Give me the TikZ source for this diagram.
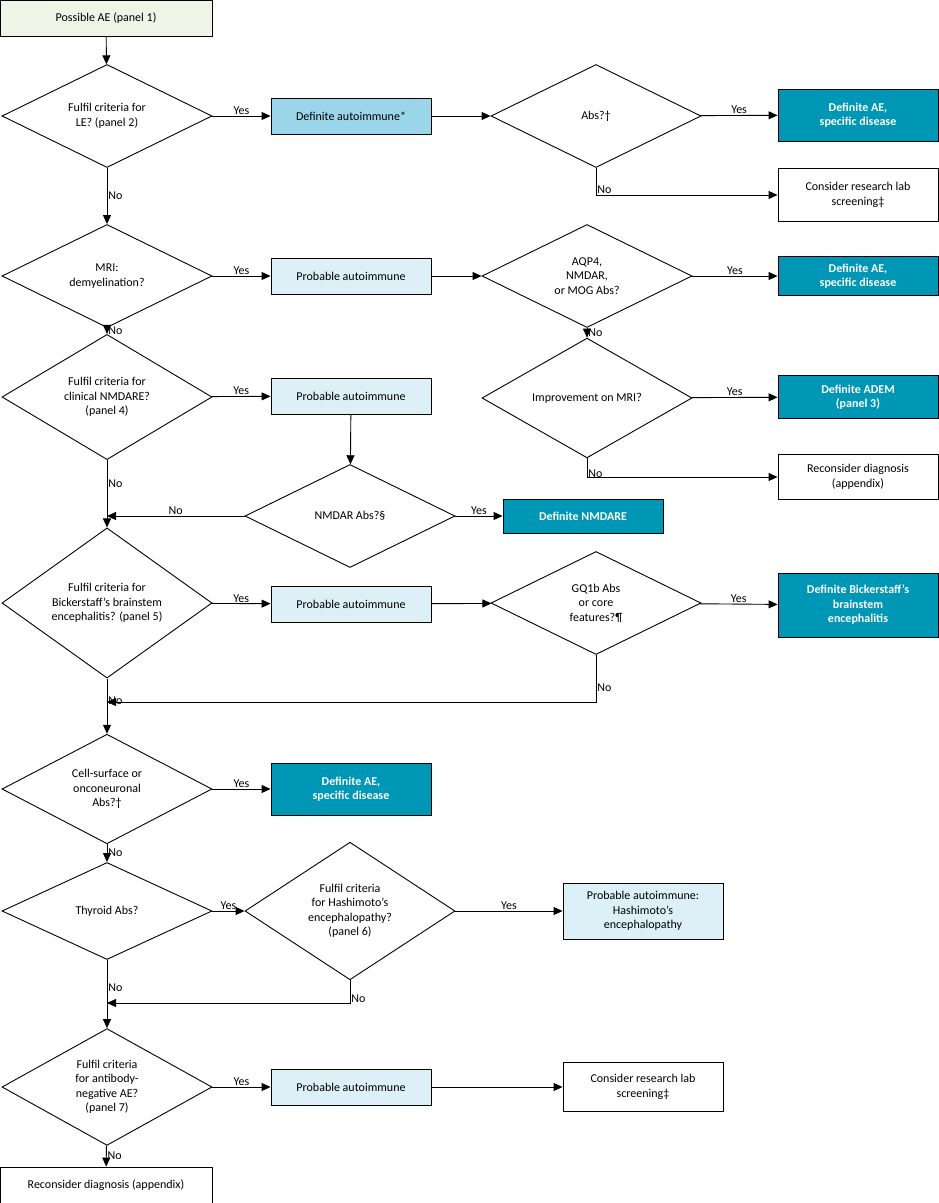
\documentclass[tikz,border=0pt]{standalone}
\usepackage{fontspec}
\setmainfont{Carlito}
\usetikzlibrary{shapes.geometric,arrows.meta}
\definecolor{dark}{HTML}{0096B6}
\definecolor{mid}{HTML}{9AD5EA}
\definecolor{light}{HTML}{DDF0F7}
\definecolor{green}{HTML}{EEF5E6}
\begin{document}
\begin{tikzpicture}[x=1pt,y=-1pt,font=\fontsize{12}{14.5}\selectfont,line width=0.9pt,
 box/.style={draw,rectangle,minimum width=160,minimum height=36,align=center,inner sep=1},
 dia/.style={draw,diamond,minimum width=210,minimum height=103,align=center,inner sep=0,fill=white},
 dk/.style={box,fill=dark,text=white,font=\fontsize{12}{14.5}\selectfont\bfseries},
 md/.style={box,fill=mid}, lt/.style={box,fill=light},
 ar/.style={-{Triangle[length=9pt,width=8pt]}},
 lb/.style={inner sep=1}]
\useasboundingbox (0,0) rectangle (938,1203);
\node[box,fill=green,minimum width=212] (s) at (106,18) {Possible AE (panel 1)};
\node[dia] (d1) at (107,116) {Fulfil criteria for\\LE? (panel 2)};
\node[md] (da) at (351,116) {Definite autoimmune*};
\node[dia] (ab) at (596,116) {Abs?†};
\node[dk,minimum height=52] (ae1) at (858,115) {Definite AE,\\specific disease};
\node[box,minimum height=53] (cr1) at (858,195) {Consider research lab\\screening‡};
\node[dia] (d2) at (107,276) {MRI:\\demyelination?};
\node[lt] (p1) at (351,276) {Probable autoimmune};
\node[dia] (aq) at (587,276) {AQP4,\\NMDAR,\\or MOG Abs?};
\node[dk,minimum height=39] (ae2) at (858,276) {Definite AE,\\specific disease};
\node[dia] (im) at (587,398) {Improvement on MRI?};
\node[dk,minimum height=43] (adem) at (858,397) {Definite ADEM\\(panel 3)};
\node[box,minimum height=45] (rc1) at (858,477) {Reconsider diagnosis\\(appendix)};
\node[dia] (d3) at (107,397) {Fulfil criteria for\\clinical NMDARE?\\(panel 4)};
\node[lt] (p2) at (351,396) {Probable autoimmune};
\node[dia] (nm) at (350,516) {NMDAR Abs?§};
\node[dk,minimum height=34] (dn) at (583,516) {Definite NMDARE};
\coordinate (j1) at (107,516);
\node[dia] (d4) at (107,603) {Fulfil criteria for\\Bickerstaff’s brainstem\\encephalitis? (panel 5)};
\node[lt] (p3) at (351,604) {Probable autoimmune};
\node[dia] (gq) at (596,603) {GQ1b Abs\\or core\\features?¶};
\node[dk,minimum height=64] (bk) at (858,605) {Definite Bickerstaff’s\\brainstem\\encephalitis};
\coordinate (j2) at (107,702);
\node[dia] (d5) at (107,789) {Cell-surface or\\onconeuronal\\Abs?†};
\node[dk,minimum height=52] (ae3) at (351,789) {Definite AE,\\specific disease};
\node[dia,minimum height=97] (d6) at (107,911) {Thyroid Abs?};
\node[dia,minimum height=97] (hs) at (350,911) {Fulfil criteria\\for Hashimoto’s\\encephalopathy?\\(panel 6)};
\node[lt,minimum height=56] (ph) at (643,911) {Probable autoimmune:\\Hashimoto’s\\encephalopathy};
\coordinate (j3) at (107,1003);
\node[dia] (d7) at (107,1087) {Fulfil criteria\\for antibody-\\negative AE?\\(panel 7)};
\node[lt] (p4) at (351,1087) {Probable autoimmune};
\node[box,minimum height=49] (cr2) at (643,1087) {Consider research lab\\screening‡};
\node[box,minimum width=212] (rc2) at (106,1185) {Reconsider diagnosis (appendix)};

\draw[ar] (s) -- (d1);
\draw[ar] (d1) -- node[lb,above]{Yes} (da);
\draw[ar] (da) -- (ab);
\draw[ar] (ab) -- node[lb,above]{Yes} (ae1);
\draw[ar] (ab.south) |- node[lb,right,pos=0.4]{No} (cr1);
\draw[ar] (d1) -- node[lb,right]{No} (d2);
\draw[ar] (d2) -- node[lb,above]{Yes} (p1);
\draw[ar] (p1) -- (aq);
\draw[ar] (aq) -- node[lb,above]{Yes} (ae2);
\draw[ar] (aq) -- node[lb,right]{No} (im);
\draw[ar] (im) -- node[lb,above]{Yes} (adem);
\draw[ar] (im.south) |- node[lb,right,pos=0.4]{No} (rc1);
\draw[ar] (d2) -- node[lb,right]{No} (d3);
\draw[ar] (d3) -- node[lb,above]{Yes} (p2);
\draw[ar] (p2) -- (nm);
\draw[ar] (nm) -- node[lb,above]{Yes} (dn);
\draw[ar] (nm) -- node[lb,above]{No} (j1);
\draw[ar] (d3) -- node[lb,right,pos=0.35]{No} (d4);
\draw[ar] (d4) -- node[lb,above]{Yes} (p3);
\draw[ar] (p3) -- (gq);
\draw[ar] (gq) -- node[lb,above]{Yes} (bk);
\draw[ar] (gq.south) |- node[lb,right,pos=0.35]{No} (j2);
\draw[ar] (d4) -- node[lb,right,pos=0.4]{No} (d5);
\draw[ar] (d5) -- node[lb,above]{Yes} (ae3);
\draw[ar] (d5) -- node[lb,right]{No} (d6);
\draw[ar] (d6) -- node[lb,above]{Yes} (hs);
\draw[ar] (hs) -- node[lb,above]{Yes} (ph);
\draw[ar] (hs.south) |- node[lb,right,pos=0.4]{No} (j3);
\draw[ar] (d6) -- node[lb,right,pos=0.4]{No} (d7);
\draw[ar] (d7) -- node[lb,above]{Yes} (p4);
\draw[ar] (p4) -- (cr2);
\draw[ar] (d7) -- node[lb,right]{No} (rc2);
\end{tikzpicture}
\end{document}
